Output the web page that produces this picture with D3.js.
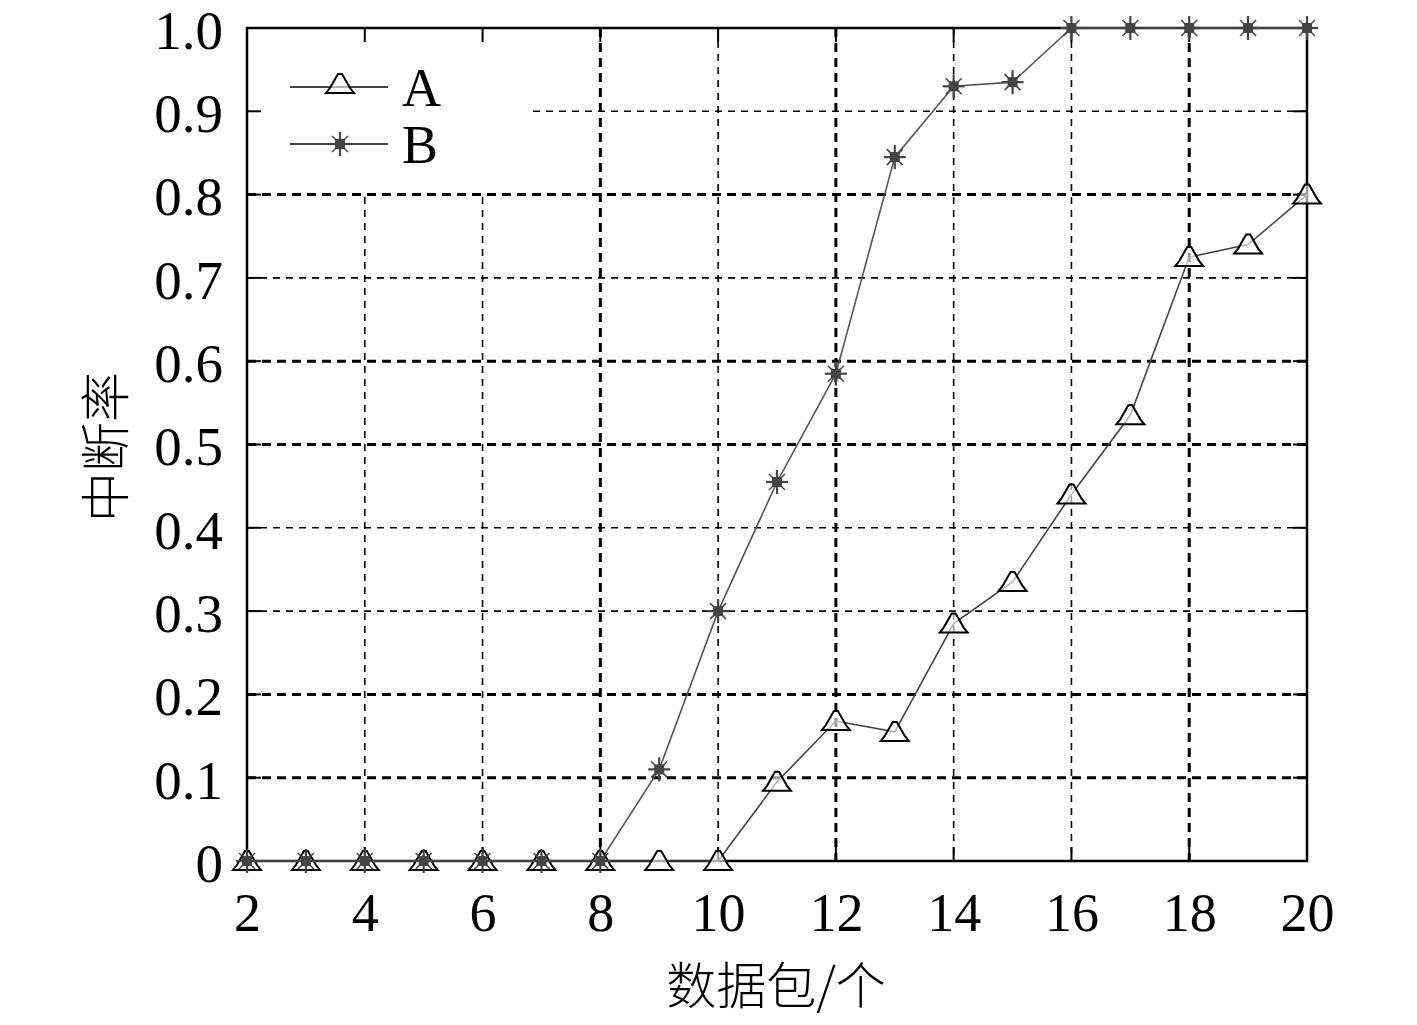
<!DOCTYPE html>
<html><head><meta charset="utf-8">
<script src="https://cdn.jsdelivr.net/npm/d3@7"></script>
<style>body{margin:0;background:#fff}svg{display:block}</style>
</head><body>
<script>
const packets = [2,3,4,5,6,7,8,9,10,11,12,13,14,15,16,17,18,19,20];
const seriesA = [0,0,0,0,0,0,0,0,0,0.095,0.168,0.155,0.285,0.335,0.44,0.535,0.725,0.74,0.80];
const seriesB = [0,0,0,0,0,0,0,0.11,0.30,0.455,0.585,0.845,0.93,0.935,1.0,1.0,1.0,1.0,1.0];
const xTicks = [2,4,6,8,10,12,14,16,18,20];
const yTicks = [0,0.1,0.2,0.3,0.4,0.5,0.6,0.7,0.8,0.9,1.0];
const yTickLabels = ["0","0.1","0.2","0.3","0.4","0.5","0.6","0.7","0.8","0.9","1.0"];
const boldX = [8,12,18];
const boldY = [0.1,0.2,0.5,0.6,0.8];
const legendNames = ["A","B"];

const W=1417,H=1025;
const L=247,R=1307,T=28,B=861;
const svg=d3.select("body").append("svg").attr("width",W).attr("height",H);
const x=d3.scaleLinear().domain([2,20]).range([L,R]);
const y=d3.scaleLinear().domain([0,1]).range([B,T]);
const serif='"Liberation Serif","DejaVu Serif",serif';

// grid
const g=svg.append("g");
xTicks.slice(1,-1).forEach(v=>{
  const bold=boldX.includes(v);
  g.append("line").attr("x1",x(v)).attr("x2",x(v)).attr("y1",T).attr("y2",B)
   .attr("stroke","#000").attr("stroke-width",bold?3:1.6)
   .attr("stroke-dasharray",bold?"9,6":"7,6");
});
yTicks.slice(1,-1).forEach(v=>{
  const bold=boldY.some(b=>Math.abs(b-v)<1e-9);
  g.append("line").attr("x1",L).attr("x2",R).attr("y1",y(v)).attr("y2",y(v))
   .attr("stroke","#000").attr("stroke-width",bold?3:1.6)
   .attr("stroke-dasharray",bold?"9,6":"7,6");
});
// legend box cover
svg.append("rect").attr("x",L+2).attr("y",T+2).attr("width",278).attr("height",y(0.8)-T-5).attr("fill","#fff");

// ticks inward
const tk=svg.append("g").attr("stroke","#000").attr("stroke-width",2);
xTicks.forEach(v=>{
  tk.append("line").attr("x1",x(v)).attr("x2",x(v)).attr("y1",T).attr("y2",T+14);
  tk.append("line").attr("x1",x(v)).attr("x2",x(v)).attr("y1",B).attr("y2",B-14);
});
yTicks.forEach(v=>{
  tk.append("line").attr("x1",L).attr("x2",L+14).attr("y1",y(v)).attr("y2",y(v));
  tk.append("line").attr("x1",R).attr("x2",R-14).attr("y1",y(v)).attr("y2",y(v));
});
// frame
svg.append("rect").attr("x",L).attr("y",T).attr("width",R-L).attr("height",B-T)
  .attr("fill","none").attr("stroke","#000").attr("stroke-width",2.5);

// axes labels via d3 axes
const xAxis=svg.append("g").attr("transform",`translate(0,${B})`)
  .call(d3.axisBottom(x).tickValues(xTicks).tickSize(0).tickPadding(31).tickFormat(d3.format("d")));
xAxis.select(".domain").remove();
xAxis.selectAll("text").attr("font-family",serif).attr("font-size",54).attr("fill","#000").attr("dy","0.72em");
const yAxis=svg.append("g").attr("transform",`translate(${L},0)`)
  .call(d3.axisLeft(y).tickValues(yTicks).tickSize(0).tickPadding(24).tickFormat((d,i)=>yTickLabels[i]));
yAxis.select(".domain").remove();
yAxis.selectAll("text").attr("font-family",serif).attr("font-size",55).attr("fill","#000").attr("dy","0.37em");

// lines
const line=d3.line().x((d,i)=>x(packets[i])).y(d=>y(d));
svg.append("path").datum(seriesB).attr("d",line).attr("fill","none").attr("stroke","#555").attr("stroke-width",1.6);
svg.append("path").datum(seriesA).attr("d",line).attr("fill","none").attr("stroke","#444").attr("stroke-width",1.6);

// markers
function tri(sel,cx,cy){
  sel.append("path").attr("d",`M${cx-14},${cy+9}L${cx+14},${cy+9}L${cx+10},${cy+4}L${cx+2},${cy-10}L${cx-2},${cy-10}L${cx-10},${cy+4}Z`)
    .attr("fill","#fff").attr("fill-opacity",0.6).attr("stroke","#000").attr("stroke-width",2);
}
function star(sel,cx,cy){
  const s=sel.append("g").attr("stroke","#444").attr("stroke-width",2.2);
  s.append("line").attr("x1",cx).attr("x2",cx).attr("y1",cy-12).attr("y2",cy+12);
  s.append("line").attr("x1",cx-11).attr("x2",cx+11).attr("y1",cy).attr("y2",cy);
  s.append("line").attr("x1",cx-8).attr("x2",cx+8).attr("y1",cy-8).attr("y2",cy+8).attr("stroke-width",1.5);
  s.append("line").attr("x1",cx-8).attr("x2",cx+8).attr("y1",cy+8).attr("y2",cy-8).attr("stroke-width",1.5);
  sel.append("rect").attr("x",cx-5).attr("y",cy-5).attr("width",10).attr("height",10).attr("fill","#444");
}
const mA=svg.append("g"), mB=svg.append("g");
seriesB.forEach((v,i)=>star(mB,x(packets[i]),y(v)));
seriesA.forEach((v,i)=>tri(mA,x(packets[i]),y(v)));

// legend
const lg=svg.append("g");
[[87,"A"],[144,"B"]].forEach(([ly,name],k)=>{
  lg.append("line").attr("x1",290).attr("x2",388).attr("y1",ly).attr("y2",ly).attr("stroke","#444").attr("stroke-width",1.8);
  if(k===0) tri(lg,340,ly-3); else star(lg,340,ly);
  lg.append("text").attr("x",402).attr("y",ly+19).text(legendNames[k])
    .attr("font-family",serif).attr("font-size",54).attr("fill","#000");
});

// titles
const cjk='"Noto Sans CJK SC",sans-serif';
svg.append("text").attr("x",776).attr("y",1004).attr("text-anchor","middle")
  .attr("font-family",cjk).attr("font-size",50).attr("font-weight",300).attr("fill","#000").text("数据包/个");
svg.append("text").attr("transform","translate(124,447) rotate(-90)").attr("text-anchor","middle")
  .attr("font-family",cjk).attr("font-size",50).attr("font-weight",300).attr("fill","#000").text("中断率");
</script>
</body></html>
